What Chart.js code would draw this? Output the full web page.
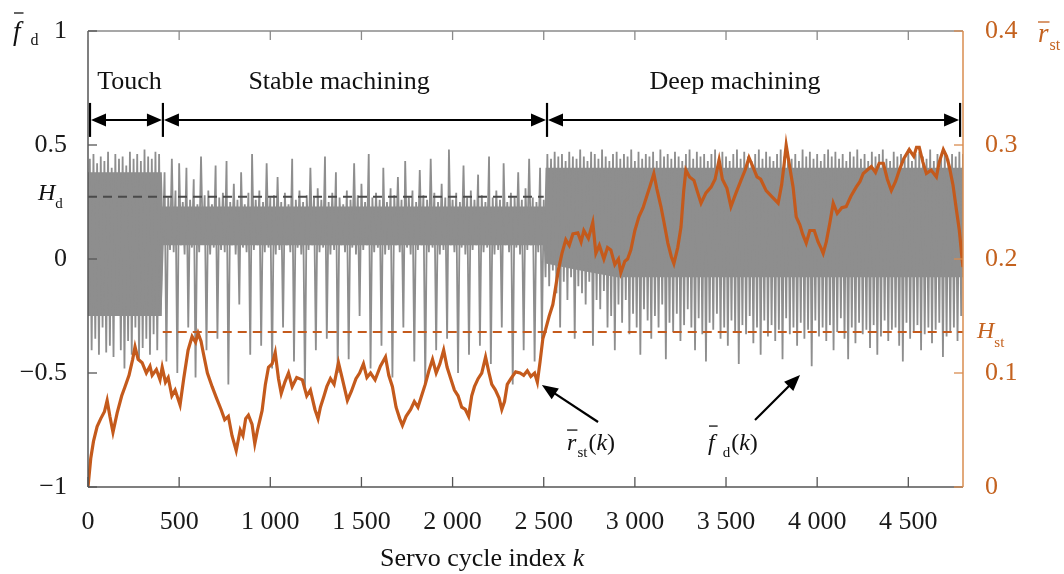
<!DOCTYPE html>
<html><head><meta charset="utf-8">
<script src="https://cdn.jsdelivr.net/npm/chart.js@4.4.1/dist/chart.umd.min.js"></script>
<style>html,body{margin:0;padding:0;background:#fff;}</style>
</head><body>
<canvas id="c" width="1064" height="574"></canvas>
<script>
// ---------------- data ----------------
const fdStep = 10; // servo cycles between stored samples of f_d
// f_d(k) in hundredths (touch / stable / deep machining)
const fdTouch = [-10,44,-40,46,-35,42,-42,45,-30,43,-41,47,-38,40,-43,46,-25,44,-40,45,-48,41,-36,47,-42,44,-30,46,-44,43,-39,48,-35,45,-42,44,-33,47,-40,46,-20];
const fdStable = [
5,38,-45,27,4,44,3,30,-50,42,
6,25,2,40,-30,26,5,35,-52,24,
3,45,7,28,-40,30,2,24,5,41,
-35,27,4,29,3,43,-55,25,6,33,
2,26,-20,38,5,24,3,29,-42,46,
4,26,6,30,-38,25,3,42,5,27,
-48,28,2,36,4,25,-30,29,6,24,
3,44,-45,26,5,30,2,25,-58,28,
4,40,6,27,-40,31,3,26,5,45,
-35,25,2,29,4,38,-50,27,6,24,
3,30,-44,26,5,42,2,28,-25,33,
4,25,6,46,-48,27,3,29,5,26,
-38,40,2,25,4,31,-52,28,6,36,
3,26,-30,43,5,27,2,30,-45,25,
4,39,6,28,-55,26,3,44,5,29,
-40,25,2,33,4,27,-35,48,6,26,
3,29,-50,25,5,41,2,27,-42,30,
4,26,6,37,-38,28,3,25,5,45,
-46,27,2,30,4,26,-30,42,6,25,
3,29,-55,27,5,38,2,26,-40,31,
4,44,6,27,-45,25,3,40,-35,26];
const fdDeep = [
-8,46,-12,44,-5,47,-15,45,-30,46,
-10,43,-18,47,-8,45,-35,44,-12,48,
-15,45,-20,43,-10,47,-38,46,-18,44,
-22,48,-14,45,-30,43,-25,46,-40,47,
-20,44,-28,46,-18,45,-33,48,-24,43,
-30,47,-42,44,-22,46,-27,45,-35,47,
-25,43,-30,48,-20,45,-44,46,-28,44,
-32,47,-24,45,-36,43,-29,46,-22,48,
-30,44,-40,47,-26,45,-33,46,-45,43,
-28,46,-31,48,-24,44,-35,47,-30,45,
-38,43,-27,46,-32,48,-46,44,-29,47,
-33,45,-25,43,-37,46,-30,48,-42,44,
-27,47,-34,45,-29,43,-36,46,-31,48,
-44,45,-26,47,-33,44,-30,46,-38,43,
-28,48,-35,45,-31,47,-47,44,-27,46,
-34,43,-30,46,-36,48,-29,45,-40,47,
-32,44,-26,46,-35,43,-44,47,-30,45,
-37,48,-28,44,-33,46,-31,43,-39,47,
-29,45,-42,46,-34,48,-27,44,-36,43,
-31,47,-30,45,-38,46,-45,44,-28,48,
-35,43,-32,46,-29,47,-40,45,-33,44,
-30,48,-37,43,-31,46,-28,45,-43,47,
-34,44,-32,46,-30,45,-36,47,-25,46];

// dense core of the f_d trace (where strokes overlap into solid grey)
const fdBandK    = [0,     405,   410,  2505, 2510,  2700,  2900,  4800];
const fdBandLow  = [-0.25, -0.25, 0.06, 0.06, -0.02, -0.05, -0.08, -0.08];
const fdBandHigh = [0.38,  0.38,  0.23, 0.23, 0.40,  0.40,  0.40,  0.40];

// r_st(k): [k, value]
const rstSeries = [[0,0.000],[15,0.025],[30,0.040],[50,0.053],[70,0.060],[90,0.066],[105,0.076],[120,0.062],[137,0.048],[160,0.065],[185,0.080],[203,0.088],[225,0.098],[245,0.112],[258,0.123],[275,0.112],[297,0.109],[320,0.100],[340,0.106],[352,0.098],[375,0.103],[395,0.094],[407,0.105],[425,0.092],[440,0.096],[460,0.080],[478,0.085],[505,0.072],[525,0.095],[549,0.120],[571,0.132],[590,0.127],[604,0.135],[620,0.128],[632,0.118],[655,0.100],[681,0.088],[705,0.078],[730,0.068],[750,0.059],[770,0.062],[790,0.045],[813,0.032],[835,0.050],[850,0.045],[865,0.060],[880,0.063],[900,0.055],[915,0.038],[930,0.050],[955,0.067],[973,0.090],[990,0.105],[1010,0.108],[1027,0.118],[1045,0.095],[1060,0.082],[1080,0.092],[1100,0.100],[1120,0.088],[1145,0.096],[1176,0.094],[1200,0.080],[1220,0.085],[1245,0.068],[1262,0.060],[1275,0.070],[1295,0.080],[1310,0.088],[1330,0.095],[1350,0.090],[1374,0.109],[1395,0.095],[1423,0.076],[1445,0.084],[1470,0.095],[1490,0.100],[1511,0.108],[1530,0.096],[1550,0.100],[1575,0.094],[1604,0.106],[1632,0.114],[1650,0.098],[1670,0.088],[1690,0.070],[1710,0.060],[1725,0.054],[1745,0.062],[1770,0.068],[1790,0.075],[1810,0.070],[1830,0.080],[1850,0.090],[1870,0.102],[1890,0.112],[1910,0.100],[1930,0.108],[1951,0.120],[1970,0.105],[1990,0.095],[2010,0.085],[2030,0.080],[2050,0.070],[2070,0.068],[2088,0.062],[2105,0.080],[2120,0.088],[2140,0.095],[2160,0.100],[2181,0.114],[2200,0.100],[2215,0.090],[2235,0.085],[2255,0.078],[2270,0.068],[2285,0.075],[2300,0.090],[2320,0.095],[2346,0.101],[2370,0.100],[2390,0.098],[2410,0.102],[2429,0.097],[2450,0.100],[2465,0.092],[2480,0.110],[2495,0.130],[2510,0.138],[2530,0.150],[2550,0.160],[2565,0.175],[2580,0.190],[2600,0.205],[2621,0.217],[2640,0.212],[2660,0.222],[2687,0.223],[2705,0.215],[2720,0.225],[2745,0.218],[2769,0.232],[2786,0.205],[2805,0.212],[2830,0.200],[2850,0.210],[2868,0.208],[2890,0.195],[2910,0.200],[2923,0.188],[2945,0.198],[2960,0.200],[2978,0.208],[3000,0.225],[3022,0.237],[3045,0.245],[3065,0.255],[3085,0.265],[3104,0.275],[3120,0.262],[3143,0.246],[3160,0.232],[3181,0.214],[3200,0.202],[3214,0.196],[3235,0.210],[3253,0.228],[3268,0.260],[3280,0.278],[3300,0.272],[3324,0.269],[3345,0.258],[3363,0.249],[3390,0.258],[3418,0.263],[3440,0.270],[3462,0.287],[3480,0.270],[3505,0.262],[3527,0.246],[3555,0.258],[3582,0.269],[3605,0.278],[3626,0.289],[3650,0.280],[3670,0.272],[3690,0.270],[3720,0.260],[3750,0.255],[3786,0.249],[3805,0.265],[3820,0.285],[3830,0.300],[3845,0.285],[3868,0.263],[3885,0.237],[3905,0.230],[3920,0.222],[3940,0.214],[3960,0.225],[3984,0.225],[4005,0.215],[4020,0.210],[4033,0.205],[4050,0.215],[4070,0.232],[4088,0.249],[4110,0.240],[4135,0.245],[4159,0.246],[4185,0.255],[4214,0.263],[4235,0.268],[4253,0.275],[4275,0.278],[4297,0.281],[4320,0.276],[4340,0.284],[4363,0.284],[4385,0.270],[4407,0.260],[4430,0.268],[4451,0.278],[4475,0.288],[4505,0.296],[4530,0.290],[4545,0.298],[4560,0.298],[4580,0.285],[4599,0.275],[4625,0.278],[4654,0.272],[4670,0.285],[4692,0.296],[4710,0.290],[4725,0.281],[4745,0.265],[4764,0.243],[4780,0.225],[4795,0.200],[4800,0.193]];

const Hd = 0.273;            // threshold on f_d (left axis)
const HdSpan = [0, 2500];
const Hst = 0.136;           // threshold on r_st (right axis)
const HstSpan = [410, 4800];

const xTickValues = [0,500,1000,1500,2000,2500,3000,3500,4000,4500];
const xTickLabels = ['0','500','1 000','1 500','2 000','2 500','3 000','3 500','4 000','4 500'];
const yTickValues = [-1,-0.5,0,0.5,1];
const yTickLabels = ['\u22121','\u22120.5','0','0.5','1'];
const y2TickValues = [0,0.1,0.2,0.3,0.4];
const y2TickLabels = ['0','0.1','0.2','0.3','0.4'];

const phaseBounds = [11, 411, 2518, 4784];
const phaseLabels = ['Touch','Stable machining','Deep machining'];
const phaseLabelK = [228, 1377, 3549];

// ---------------- build ----------------
const fdAll = fdTouch.concat(fdStable, fdDeep);
const fdPoints = fdAll.map((v,i)=>({x:i*fdStep, y:v/100}));
const bandHi = fdBandK.map((k,i)=>({x:k, y:fdBandHigh[i]}));
const bandLo = fdBandK.map((k,i)=>({x:k, y:fdBandLow[i]}));
const rstPoints = rstSeries.map(p=>({x:p[0], y:p[1]}));

const ORANGE = '#c45a1c';
const ORANGE_TXT = '#c4621f';
const GREY = '#8e8e8e';
const SERIF = '"Liberation Serif", "Times New Roman", serif';
Chart.defaults.font.family = SERIF;

function line(ctx,x1,y1,x2,y2){ctx.beginPath();ctx.moveTo(x1,y1);ctx.lineTo(x2,y2);ctx.stroke();}
function arrowHead(ctx,tx,ty,fx,fy,len,half){
  const a=Math.atan2(ty-fy,tx-fx), c=Math.cos(a), s=Math.sin(a);
  ctx.beginPath();ctx.moveTo(tx,ty);
  ctx.lineTo(tx-len*c+half*s, ty-len*s-half*c);
  ctx.lineTo(tx-len*c-half*s, ty-len*s+half*c);
  ctx.closePath();ctx.fill();
}
function rich(ctx,x,y,parts,color){
  ctx.fillStyle=color;ctx.strokeStyle=color;ctx.textAlign='left';ctx.textBaseline='alphabetic';
  let cx=x;
  for(const p of parts){
    ctx.font=(p.i?'italic ':'')+p.s+'px '+SERIF;
    const w=ctx.measureText(p.t).width;
    const px=cx+(p.dx||0);
    ctx.fillText(p.t,px,y+(p.dy||0));
    if(p.bar){ctx.lineWidth=1.3;line(ctx,px+p.bar[0],y-p.bar[2],px+w+p.bar[1],y-p.bar[2]);}
    cx=px+w;
  }
}

const overlay = {
  id:'overlay',
  afterDatasetsDraw(chart){
    const {ctx, chartArea:a, scales} = chart;
    const X=scales.x, Y=scales.y, Y2=scales.y2;
    ctx.save();
    // frame
    ctx.lineWidth=1.5;
    ctx.strokeStyle='#8a8a8a'; line(ctx,a.left,a.top,a.right,a.top);
    ctx.strokeStyle='#555'; line(ctx,a.left,a.top,a.left,a.bottom); line(ctx,a.left,a.bottom,a.right,a.bottom);
    ctx.strokeStyle='#d98c4f'; line(ctx,a.right,a.top,a.right,a.bottom);
    // inward tick marks
    ctx.lineWidth=1.3; ctx.strokeStyle='#555';
    xTickValues.forEach(v=>{const px=X.getPixelForValue(v); line(ctx,px,a.bottom,px,a.bottom-10); ctx.strokeStyle='#8a8a8a'; line(ctx,px,a.top,px,a.top+9); ctx.strokeStyle='#555';});
    yTickValues.forEach(v=>{const py=Y.getPixelForValue(v); line(ctx,a.left,py,a.left+9,py);});
    ctx.strokeStyle='#d98c4f';
    y2TickValues.forEach(v=>{const py=Y2.getPixelForValue(v); line(ctx,a.right,py,a.right-9,py);});

    // phase arrows
    ctx.strokeStyle='#000'; ctx.fillStyle='#000';
    const ay=Y.getPixelForValue(0.61), bh=17;
    const bx=phaseBounds.map(k=>X.getPixelForValue(k));
    ctx.lineWidth=2.2;
    bx.forEach(px=>line(ctx,px,ay-bh,px,ay+bh));
    ctx.lineWidth=2;
    for(let i=0;i<bx.length-1;i++){
      const l=bx[i]+1, r=bx[i+1]-1;
      line(ctx,l+10,ay,r-10,ay);
      arrowHead(ctx,l,ay,r,ay,15,6.5);
      arrowHead(ctx,r,ay,l,ay,15,6.5);
    }
    ctx.font='26px '+SERIF; ctx.textAlign='center'; ctx.textBaseline='alphabetic'; ctx.fillStyle='#111';
    const ty=Y.getPixelForValue(0.746);
    phaseLabels.forEach((t,i)=>ctx.fillText(t,X.getPixelForValue(phaseLabelK[i]),ty));

    // pointer arrows
    ctx.lineWidth=2.2; ctx.strokeStyle='#000'; ctx.fillStyle='#000';
    const ptr=[[2490,-0.553,2798,-0.715],[3906,-0.509,3659,-0.706]];
    ptr.forEach(p=>{
      const tx=X.getPixelForValue(p[0]), tyy=Y.getPixelForValue(p[1]);
      const fx=X.getPixelForValue(p[2]), fy=Y.getPixelForValue(p[3]);
      const a2=Math.atan2(tyy-fy,tx-fx);
      line(ctx,fx,fy,tx-12*Math.cos(a2),tyy-12*Math.sin(a2));
      arrowHead(ctx,tx,tyy,fx,fy,16,6.5);
    });
    const lb=Y.getPixelForValue(-0.838);
    rich(ctx,X.getPixelForValue(2628),lb,[
      {t:'r',i:1,s:24,bar:[0,1,20]},{t:'st',s:15,dy:7,dx:1},{t:'(',s:24,dx:1},{t:'k',i:1,s:24},{t:')',s:24}],'#111');
    rich(ctx,X.getPixelForValue(3401),lb,[
      {t:'f',i:1,s:24,bar:[1,3,24]},{t:'d',s:15,dy:7,dx:8},{t:'(',s:24,dx:1},{t:'k',i:1,s:24},{t:')',s:24}],'#111');

    // threshold labels (margins)
    rich(ctx,a.left-50,Y.getPixelForValue(Hd)+3,[{t:'H',i:1,s:24},{t:'d',s:15,dy:8,dx:0}],'#111');
    rich(ctx,a.right+14,Y2.getPixelForValue(Hst)+6,[{t:'H',i:1,s:24},{t:'st',s:15,dy:9,dx:0}],ORANGE_TXT);

    // axis symbols at the top corners
    rich(ctx,13,40,[{t:'f',i:1,s:27,bar:[1,3,27]},{t:'d',s:16,dy:5,dx:10}],'#111');
    rich(ctx,a.right+75,42,[{t:'r',i:1,s:27,bar:[0,1,20]},{t:'st',s:16,dy:8,dx:1}],ORANGE_TXT);

    // x-axis title
    rich(ctx,380,566,[{t:'Servo cycle index ',s:26},{t:'k',i:1,s:26}],'#111');
    ctx.restore();
  }
};

new Chart(document.getElementById('c'),{
  type:'line',
  data:{datasets:[
    {label:'r_st', data:rstPoints, yAxisID:'y2', borderColor:ORANGE, borderWidth:3.2, pointRadius:0, tension:0, order:0},
    {label:'H_st', data:[{x:HstSpan[0],y:Hst},{x:HstSpan[1],y:Hst}], yAxisID:'y2', borderColor:ORANGE, borderWidth:2, borderDash:[9,6], pointRadius:0, order:1},
    {label:'H_d', data:[{x:HdSpan[0],y:Hd},{x:HdSpan[1],y:Hd}], yAxisID:'y', borderColor:'#4a4a4a', borderWidth:1.8, borderDash:[9,6], pointRadius:0, order:2},
    {label:'f_d', data:fdPoints, yAxisID:'y', borderColor:GREY, borderWidth:1.8, pointRadius:0, tension:0, order:3},
    {label:'f_d core hi', data:bandHi, yAxisID:'y', borderWidth:0, borderColor:'rgba(0,0,0,0)', backgroundColor:GREY, fill:'+1', pointRadius:0, tension:0, order:4},
    {label:'f_d core lo', data:bandLo, yAxisID:'y', borderWidth:0, borderColor:'rgba(0,0,0,0)', fill:false, pointRadius:0, tension:0, order:5}
  ]},
  options:{
    responsive:false, animation:false, devicePixelRatio:1,
    layout:{padding:{top:31,left:0,right:0,bottom:0}},
    plugins:{legend:{display:false},tooltip:{enabled:false}},
    scales:{
      x:{type:'linear',min:0,max:4800,grid:{display:false},border:{display:false},
        afterBuildTicks:s=>{s.ticks=xTickValues.map(v=>({value:v}));},
        ticks:{callback:(v,i)=>xTickLabels[i],font:{size:26},color:'#1a1a1a',padding:12,maxRotation:0,autoSkip:false},
        afterFit:s=>{s.height=87;}},
      y:{position:'left',min:-1,max:1,grid:{display:false},border:{display:false},
        afterBuildTicks:s=>{s.ticks=yTickValues.map(v=>({value:v}));},
        ticks:{callback:(v,i)=>yTickLabels[i],font:{size:26},color:'#1a1a1a',padding:13,autoSkip:false},
        afterFit:s=>{s.width=88;}},
      y2:{position:'right',min:0,max:0.4,grid:{display:false},border:{display:false},
        afterBuildTicks:s=>{s.ticks=y2TickValues.map(v=>({value:v}));},
        ticks:{callback:(v,i)=>y2TickLabels[i],font:{size:26},color:ORANGE_TXT,padding:14,autoSkip:false},
        afterFit:s=>{s.width=101;}}
    }
  },
  plugins:[overlay]
});
</script>
</body></html>
